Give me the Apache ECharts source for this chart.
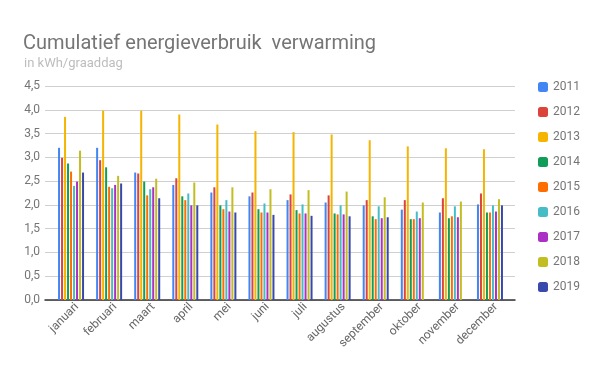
<!DOCTYPE html>
<html><head><meta charset="utf-8">
<script src="https://cdn.jsdelivr.net/npm/echarts@6/dist/echarts.min.js"></script>
<style>html,body{margin:0;padding:0;background:#fff}#c{width:600px;height:371px}</style>
</head><body><div id="c"></div>
<script>
const months = ['januari','februari','maart','april','mei','juni','juli','augustus','september','oktober','november','december'];
const years = ['2011','2012','2013','2014','2015','2016','2017','2018','2019'];
const colors = ['#4285F4','#DB4437','#F4B400','#0F9D58','#FF6D00','#46BDC6','#AB30C4','#C2BD20','#3949AB'];
const v2011 = [3.20,3.20,2.68,2.42,2.26,2.18,2.10,2.05,1.99,1.90,1.84,2.01];
const v2012 = [2.99,2.94,2.66,2.56,2.37,2.26,2.22,2.20,2.10,2.10,2.14,2.24];
const v2013 = [3.85,3.98,3.98,3.90,3.69,3.55,3.53,3.48,3.36,3.23,3.19,3.17];
const v2014 = [2.87,2.79,2.49,2.18,1.99,1.91,1.89,1.82,1.76,1.70,1.72,1.84];
const v2015 = [2.70,2.38,2.20,2.10,1.91,1.84,1.82,1.80,1.70,1.70,1.76,1.84];
const v2016 = [2.40,2.35,2.33,2.24,2.10,2.03,2.01,1.99,1.97,1.86,1.97,1.99];
const v2017 = [2.49,2.42,2.37,1.99,1.86,1.84,1.82,1.80,1.72,1.72,1.74,1.86];
const v2018 = [3.14,2.61,2.55,2.47,2.37,2.33,2.31,2.28,2.16,2.05,2.07,2.12];
const v2019 = [2.68,2.45,2.14,1.99,1.84,1.79,1.77,1.76,1.74,null,null,1.99];
const values = [v2011,v2012,v2013,v2014,v2015,v2016,v2017,v2018,v2019];
const yTicks = {min:0, max:4.5, interval:0.5};

const chart = echarts.init(document.getElementById('c'), null, {renderer:'canvas'});
const font = 'Roboto, "Noto Sans", Arial, sans-serif';
chart.setOption({
  animation:false,
  color: colors,
  textStyle:{fontFamily:font},
  title:[
    {text:'Cumulatief energieverbruik  verwarming', left:18, top:29,
     textStyle:{fontSize:20, fontWeight:'normal', color:'#757575', fontFamily:font}},
    {text:'in kWh/graaddag', left:19, top:52,
     textStyle:{fontSize:13, fontWeight:'normal', color:'#BDBDBD', fontFamily:font}}
  ],
  legend:{
    orient:'vertical', left:533, top:76, itemWidth:10, itemHeight:10, itemGap:13,
    icon:'roundRect',
    textStyle:{fontSize:12, color:'#757575', fontFamily:font},
    data: years
  },
  grid:[
    {left:45, right:85, top:86, bottom:71},
    {left:52, right:91, top:86, bottom:71},
    {left:58, right:85, top:86, bottom:71}
  ],
  xAxis:[
    {gridIndex:0, type:'category', data:months, axisLabel:{show:false}, axisTick:{show:false},
     axisLine:{show:true, lineStyle:{color:'#333', width:1.5}}},
    {gridIndex:1, type:'category', data:months, axisTick:{show:false}, axisLine:{show:false},
     axisLabel:{show:false}},
    {gridIndex:2, type:'category', data:months, axisTick:{show:false}, axisLine:{show:false},
     axisLabel:{rotate:45, fontSize:12, color:'#666', margin:5, interval:0, fontFamily:font}}
  ],
  yAxis:[
    {gridIndex:0, type:'value', min:yTicks.min, max:yTicks.max, interval:yTicks.interval,
     axisLine:{show:false}, axisTick:{show:false},
     axisLabel:{fontSize:12, color:'#757575', margin:5, fontFamily:font,
       formatter:v=>v.toFixed(1).replace('.',',')},
     splitLine:{lineStyle:{color:'#D0D0D0', width:1}}},
    {gridIndex:1, type:'value', min:yTicks.min, max:yTicks.max, interval:yTicks.interval, show:false,
     splitLine:{show:false}},
    {gridIndex:2, type:'value', min:yTicks.min, max:yTicks.max, interval:yTicks.interval, show:false,
     splitLine:{show:false}}
  ],
  series: years.map((y,i)=>({
    name:y, type:'bar', xAxisIndex:1, yAxisIndex:1, data:values[i],
    barWidth:2, barGap:'50%', itemStyle:{color:colors[i]}
  }))
});
</script></body></html>
